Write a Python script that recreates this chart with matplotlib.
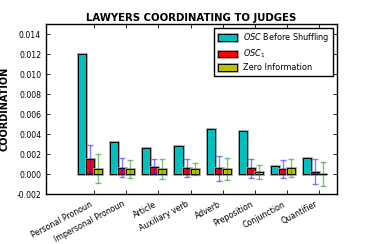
import numpy as np
import matplotlib
matplotlib.use('Agg')
from matplotlib import pyplot as plt
import matplotlib.patheffects as pe

categories = ['Personal Pronoun', 'Impersonal Pronoun', 'Article', 'Auxiliary verb',
              'Adverb', 'Preposition', 'Conjunction', 'Quantifier']
osc_before = [0.0120, 0.0032, 0.0026, 0.0028, 0.0045, 0.0043, 0.0008, 0.0016]
osc_1 = [0.0015, 0.00065, 0.00075, 0.00065, 0.0006, 0.0006, 0.0005, 0.00025]
osc_1_err = [0.0014, 0.00095, 0.00075, 0.0009, 0.00125, 0.00095, 0.0009, 0.00125]
zero_info = [0.00055, 0.0005, 0.0005, 0.0005, 0.0005, 0.00025, 0.0006, 0.0]
zero_info_err = [0.00145, 0.0009, 0.001, 0.0006, 0.0011, 0.0007, 0.0009, 0.0012]
yticks = [-0.002, 0.000, 0.002, 0.004, 0.006, 0.008, 0.010, 0.012, 0.014]

ind = np.arange(len(categories))
width = 0.25

fig = plt.figure(figsize=(3.74, 2.44), dpi=100)
ax = fig.add_axes([46/374, 1 - 194/244, 291/374, 170/244])

shadow = [pe.Stroke(linewidth=2.0, foreground='#a0a0a0'), pe.Normal()]
b1 = ax.bar(ind, osc_before, width, align='edge', color='#00bfbf', edgecolor='black',
            linewidth=0.7, path_effects=shadow)
b2 = ax.bar(ind + width, osc_1, width, align='edge', color='red', edgecolor='black',
            linewidth=0.7, path_effects=shadow)
b3 = ax.bar(ind + 2 * width, zero_info, width, align='edge', color='#bfbf00', edgecolor='black',
            linewidth=0.7, path_effects=shadow)
ax.errorbar(ind + 1.5 * width, osc_1, yerr=osc_1_err, fmt='none', ecolor='blue',
            alpha=0.5, elinewidth=1, capsize=2, capthick=1)
ax.errorbar(ind + 2.5 * width, zero_info, yerr=zero_info_err, fmt='none', ecolor='green',
            alpha=0.5, elinewidth=1, capsize=2, capthick=1)

ax.set_xlim(-1.0, 8.06)
ax.set_ylim(-0.002, 0.015)
ax.set_yticks(yticks)
ax.set_yticklabels(['%.3f' % v for v in yticks])
ax.set_xticks(ind + 2 * width)
ax.set_xticklabels(categories, rotation=28, ha='right', fontsize=5.7)
ax.tick_params(direction='in', top=True, right=True, labelsize=5.6, length=3, width=0.6)
ax.tick_params(axis='x', pad=4, labelsize=5.7)
for s in ax.spines.values():
    s.set_linewidth(1.0)

ax.set_title('LAWYERS COORDINATING TO JUDGES', fontsize=7.3, fontweight='bold', pad=2)
ax.set_ylabel('COORDINATION', fontsize=7, fontweight='bold')
ax.yaxis.set_label_coords(-0.125, 0.5)

ax.legend([b1, b2, b3], ['$OSC$ Before Shuffling', '$OSC_1$', 'Zero Information'],
          loc='upper right', fontsize=5.9, fancybox=False, framealpha=1,
          edgecolor='black', borderpad=0.4, labelspacing=0.4, handlelength=2.3,
          handleheight=0.8, borderaxespad=0.5)

fig.savefig('out.png', dpi=100)
